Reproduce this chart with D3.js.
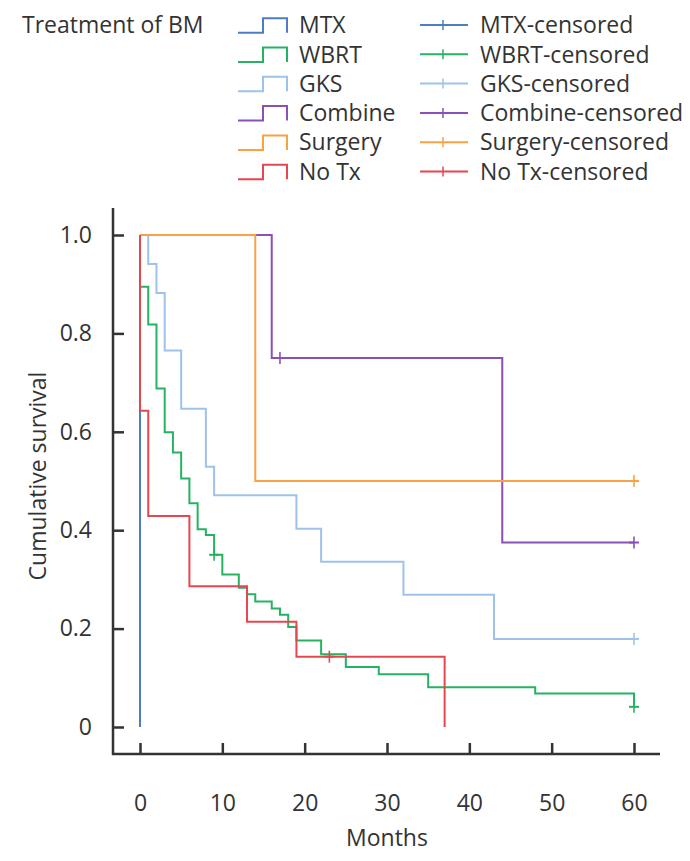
<!DOCTYPE html>
<html>
<head>
<meta charset="utf-8">
<script src="https://cdn.jsdelivr.net/npm/d3@7"></script>
<style>
  html, body { margin: 0; padding: 0; background: #fff; }
  svg { display: block; }
  text { font-family: "Open Sans", "DejaVu Sans", sans-serif; fill: #333; }
</style>
</head>
<body>
<svg id="chart" width="690" height="861"></svg>
<script>
// ---- data ----
const groups = ["MTX", "WBRT", "GKS", "Combine", "Surgery", "No Tx"];
const colors = ["#4d7ec3", "#25b363", "#9dc3ea", "#8c4fb7", "#f8a243", "#e6474f"];

const mtxTimes = [0];
const mtxSurv = [0];
const mtxCens = [];

const wbrtTimes = [0, 1, 2, 3, 4, 5, 6, 7, 8, 9, 10, 12, 13, 14, 16, 17, 18, 19, 22, 25, 29, 35, 48, 60];
const wbrtSurv = [0.895, 0.818, 0.688, 0.599, 0.558, 0.505, 0.455, 0.402, 0.39, 0.35, 0.31, 0.283, 0.27, 0.255, 0.241, 0.228, 0.203, 0.176, 0.148, 0.122, 0.107, 0.081, 0.068, 0.041];
const wbrtCens = [9, 60];

const gksTimes = [1, 2, 3, 5, 8, 9, 19, 22, 32, 43];
const gksSurv = [0.941, 0.882, 0.765, 0.647, 0.529, 0.471, 0.403, 0.336, 0.269, 0.179];
const gksCens = [60];

const combTimes = [16, 44];
const combSurv = [0.75, 0.375];
const combCens = [17, 60];

const surgTimes = [14];
const surgSurv = [0.5];
const surgCens = [60];

const notxTimes = [0, 1, 6, 13, 19, 37];
const notxSurv = [0.643, 0.429, 0.286, 0.214, 0.143, 0];
const notxCens = [23];

const xTicks = [0, 10, 20, 30, 40, 50, 60];
const yTicks = [0, 0.2, 0.4, 0.6, 0.8, 1.0];

const series = [
  {times: mtxTimes, surv: mtxSurv, cens: mtxCens},
  {times: wbrtTimes, surv: wbrtSurv, cens: wbrtCens},
  {times: gksTimes, surv: gksSurv, cens: gksCens},
  {times: combTimes, surv: combSurv, cens: combCens},
  {times: surgTimes, surv: surgSurv, cens: surgCens},
  {times: notxTimes, surv: notxSurv, cens: notxCens}
];

// ---- layout ----
const svg = d3.select("#chart");
const x = d3.scaleLinear().domain([0, 60]).range([140, 634]);
const y = d3.scaleLinear().domain([0, 1]).range([727, 235]);
const axisColor = "#333";
const fontSize = 23;

function stepPoints(s) {
  const pts = [[0, 1]];
  let prev = 1;
  s.times.forEach((t, i) => {
    pts.push([t, prev]);
    pts.push([t, s.surv[i]]);
    prev = s.surv[i];
  });
  const lastT = s.times[s.times.length - 1];
  const maxC = s.cens.length ? d3.max(s.cens) : lastT;
  if (maxC > lastT) pts.push([maxC, prev]);
  return pts;
}
function survAt(s, t) {
  let v = 1;
  s.times.forEach((tt, i) => { if (tt <= t) v = s.surv[i]; });
  return v;
}

const line = d3.line().x(d => x(d[0])).y(d => y(d[1]));

series.forEach((s, i) => {
  const g = svg.append("g");
  g.append("path")
    .attr("d", line(stepPoints(s)))
    .attr("fill", "none")
    .attr("stroke", colors[i])
    .attr("stroke-width", 2);
  s.cens.forEach(c => {
    const cx = x(c), cy = y(survAt(s, c));
    g.append("line").attr("x1", cx).attr("x2", cx).attr("y1", cy - 6).attr("y2", cy + 6)
      .attr("stroke", colors[i]).attr("stroke-width", 1.6);
    g.append("line").attr("x1", cx - 5).attr("x2", cx + 5).attr("y1", cy).attr("y2", cy)
      .attr("stroke", colors[i]).attr("stroke-width", 2);
  });
});

// ---- axes ----
const yAxis = d3.axisLeft(y).tickValues(yTicks).tickSizeInner(-11).tickSizeOuter(0).tickPadding(21)
  .tickFormat(d => d === 0 ? "0" : d3.format(".1f")(d));
const yg = svg.append("g").attr("transform", "translate(113,0)").call(yAxis);
yg.select(".domain").remove();
yg.selectAll(".tick line").attr("stroke", axisColor).attr("stroke-width", 2.5);
yg.selectAll(".tick text").attr("font-size", fontSize).attr("fill", "#333")
  .style("font-family", "'Open Sans', sans-serif");

const xAxis = d3.axisBottom(x).tickValues(xTicks).tickSizeInner(-11).tickSizeOuter(0).tickPadding(41)
  .tickFormat(d3.format("d"));
const xg = svg.append("g").attr("transform", "translate(0,754)").call(xAxis);
xg.select(".domain").remove();
xg.selectAll(".tick line").attr("stroke", axisColor).attr("stroke-width", 2.5);
xg.selectAll(".tick text").attr("font-size", fontSize).attr("fill", "#333")
  .style("font-family", "'Open Sans', sans-serif");

svg.append("line").attr("x1", 113).attr("x2", 113).attr("y1", 208).attr("y2", 755)
  .attr("stroke", axisColor).attr("stroke-width", 2.5);
svg.append("line").attr("x1", 112).attr("x2", 660).attr("y1", 754).attr("y2", 754)
  .attr("stroke", axisColor).attr("stroke-width", 2.5);

svg.append("text").attr("x", 387).attr("y", 846).attr("text-anchor", "middle")
  .attr("font-size", fontSize).text("Months");
svg.append("text").attr("transform", "translate(46,476) rotate(-90)").attr("text-anchor", "middle")
  .attr("font-size", fontSize).text("Cumulative survival");

// ---- legend ----
svg.append("text").attr("x", 22).attr("y", 33).attr("font-size", fontSize).text("Treatment of BM");
const rowH = 29.3;
groups.forEach((gname, i) => {
  const by = 32.7 + rowH * i;
  const ty = by - 14.5;
  svg.append("path")
    .attr("d", `M238,${by}H263V${ty}H287V${by}`)
    .attr("fill", "none").attr("stroke", colors[i]).attr("stroke-width", 2);
  svg.append("text").attr("x", 299).attr("y", by + 0.5).attr("font-size", fontSize).text(gname);
  const cy = 25 + rowH * i;
  svg.append("line").attr("x1", 420).attr("x2", 468).attr("y1", cy).attr("y2", cy)
    .attr("stroke", colors[i]).attr("stroke-width", 2);
  svg.append("line").attr("x1", 443).attr("x2", 443).attr("y1", cy - 5).attr("y2", cy + 5)
    .attr("stroke", colors[i]).attr("stroke-width", 1.5);
  svg.append("text").attr("x", 480).attr("y", by + 0.5).attr("font-size", fontSize).text(gname + "-censored");
});
</script>
</body>
</html>
